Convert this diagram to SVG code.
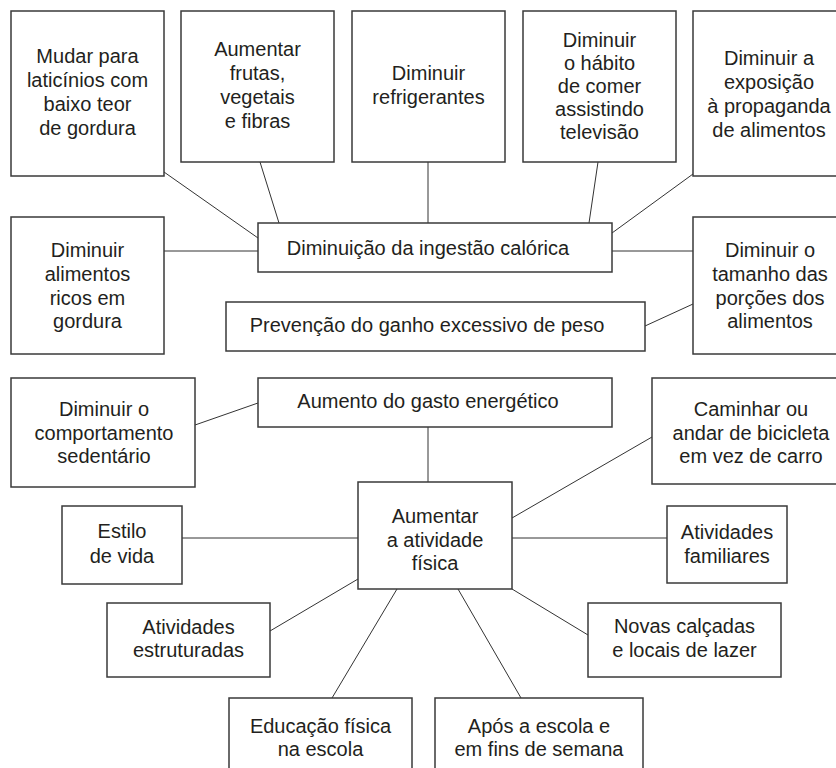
<svg xmlns="http://www.w3.org/2000/svg" width="836" height="768" viewBox="0 0 836 768">
<style>
rect{fill:#fff;stroke:#3a3a3a;stroke-width:1.5}
text{font-family:"Liberation Sans",Arial,Helvetica,sans-serif;font-size:20px;fill:#231f20;text-anchor:middle}
#connectors line{stroke:#333;stroke-width:1}
</style>
<rect x="0" y="0" width="836" height="768" style="stroke:none"/>
<g id="connectors">
<line x1="164" y1="172" x2="258" y2="238"/>
<line x1="260" y1="162" x2="279" y2="223"/>
<line x1="428" y1="162" x2="428" y2="223"/>
<line x1="598" y1="162" x2="589" y2="223"/>
<line x1="693" y1="174" x2="612" y2="233"/>
<line x1="164" y1="251" x2="258" y2="251"/>
<line x1="612" y1="251" x2="693" y2="251"/>
<line x1="645" y1="326" x2="693" y2="304"/>
<line x1="195" y1="425" x2="258" y2="403"/>
<line x1="428" y1="427" x2="428" y2="482"/>
<line x1="512" y1="518" x2="652" y2="437"/>
<line x1="182" y1="538" x2="358" y2="538"/>
<line x1="512" y1="538" x2="667" y2="538"/>
<line x1="270" y1="631" x2="358" y2="579"/>
<line x1="397" y1="589" x2="332" y2="698"/>
<line x1="458" y1="589" x2="521" y2="698"/>
<line x1="512" y1="589" x2="588" y2="635"/>
</g>
<g id="n-laticinios">
<rect x="11" y="11" width="153" height="165"/>
<text x="87.5" y="63">Mudar para</text>
<text x="87.5" y="87">laticínios com</text>
<text x="87.5" y="111">baixo teor</text>
<text x="87.5" y="135">de gordura</text>
</g>
<g id="n-frutas">
<rect x="181" y="11" width="153" height="151"/>
<text x="257.5" y="56">Aumentar</text>
<text x="257.5" y="80">frutas,</text>
<text x="257.5" y="104">vegetais</text>
<text x="257.5" y="128">e fibras</text>
</g>
<g id="n-refrigerantes">
<rect x="352" y="11" width="153" height="151"/>
<text x="428.5" y="80">Diminuir</text>
<text x="428.5" y="104">refrigerantes</text>
</g>
<g id="n-televisao">
<rect x="523" y="11" width="153" height="151"/>
<text x="599.5" y="47">Diminuir</text>
<text x="599.5" y="70">o hábito</text>
<text x="599.5" y="93">de comer</text>
<text x="599.5" y="116">assistindo</text>
<text x="599.5" y="139">televisão</text>
</g>
<g id="n-propaganda">
<rect x="693" y="11" width="152" height="165"/>
<text x="769" y="65">Diminuir a</text>
<text x="769" y="89">exposição</text>
<text x="769" y="113">à propaganda</text>
<text x="769" y="137">de alimentos</text>
</g>
<g id="n-gordura">
<rect x="11" y="217" width="153" height="137"/>
<text x="87.5" y="257">Diminuir</text>
<text x="87.5" y="281">alimentos</text>
<text x="87.5" y="305">ricos em</text>
<text x="87.5" y="328">gordura</text>
</g>
<g id="n-ingestao">
<rect x="258" y="223" width="354" height="49"/>
<text x="428" y="255">Diminuição da ingestão calórica</text>
</g>
<g id="n-porcoes">
<rect x="693" y="217" width="152" height="137"/>
<text x="770" y="257">Diminuir o</text>
<text x="770" y="281">tamanho das</text>
<text x="770" y="305">porções dos</text>
<text x="770" y="328">alimentos</text>
</g>
<g id="n-prevencao">
<rect x="226" y="302" width="419" height="49"/>
<text x="427" y="332">Prevenção do ganho excessivo de peso</text>
</g>
<g id="n-sedentario">
<rect x="11" y="378" width="184" height="109"/>
<text x="104" y="416">Diminuir o</text>
<text x="104" y="440">comportamento</text>
<text x="104" y="463">sedentário</text>
</g>
<g id="n-gasto">
<rect x="258" y="378" width="354" height="49"/>
<text x="428" y="408">Aumento do gasto energético</text>
</g>
<g id="n-caminhar">
<rect x="652" y="378" width="198" height="106"/>
<text x="751" y="416">Caminhar ou</text>
<text x="751" y="440">andar de bicicleta</text>
<text x="751" y="463">em vez de carro</text>
</g>
<g id="n-atividade">
<rect x="358" y="482" width="154" height="107"/>
<text x="435" y="523">Aumentar</text>
<text x="435" y="547">a atividade</text>
<text x="435" y="570">física</text>
</g>
<g id="n-estilo">
<rect x="62" y="506" width="120" height="78"/>
<text x="122" y="538">Estilo</text>
<text x="122" y="563">de vida</text>
</g>
<g id="n-familiares">
<rect x="667" y="506" width="120" height="77"/>
<text x="727" y="539">Atividades</text>
<text x="727" y="563">familiares</text>
</g>
<g id="n-estruturadas">
<rect x="107" y="603" width="163" height="74"/>
<text x="188.5" y="634">Atividades</text>
<text x="188.5" y="657">estruturadas</text>
</g>
<g id="n-calcadas">
<rect x="588" y="603" width="193" height="74"/>
<text x="684.5" y="633">Novas calçadas</text>
<text x="684.5" y="657">e locais de lazer</text>
</g>
<g id="n-educacao">
<rect x="229" y="698" width="183" height="80"/>
<text x="320.5" y="733">Educação física</text>
<text x="320.5" y="756">na escola</text>
</g>
<g id="n-apos">
<rect x="435" y="698" width="208" height="80"/>
<text x="539" y="733">Após a escola e</text>
<text x="539" y="756">em fins de semana</text>
</g>
</svg>
